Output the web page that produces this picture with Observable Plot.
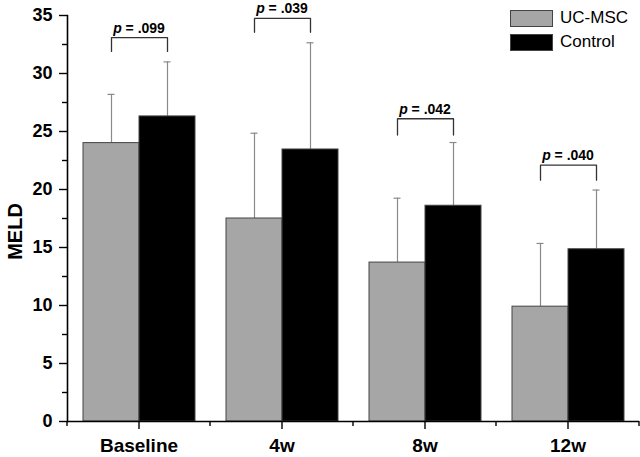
<!DOCTYPE html>
<html>
<head>
<meta charset="utf-8">
<script src="https://cdn.jsdelivr.net/npm/d3@7"></script>
<script src="https://cdn.jsdelivr.net/npm/@observablehq/plot@0.6"></script>
<style>
  body { margin: 0; background: #fff; }
  #wrap { position: relative; width: 640px; height: 457px; font-family: "Liberation Sans", Arial, sans-serif; }
  .legend { position: absolute; left: 510px; top: 6px; font-size: 17px; line-height: 24px; color: #000; }
  .legend div { display: flex; align-items: center; height: 24px; }
  .legend span.sw { display: inline-block; width: 41px; height: 15px; border: 1px solid #444; margin-right: 7px; }
</style>
</head>
<body>
<div id="wrap"></div>
<script>
const categories = ["Baseline", "4w", "8w", "12w"];
const groups = ["UC-MSC", "Control"];
const ucMean = [24.0, 17.5, 13.7, 9.9];
const ucSD = [4.2, 7.35, 5.55, 5.45];
const ctrlMean = [26.3, 23.45, 18.6, 14.85];
const ctrlSD = [4.7, 9.2, 5.45, 5.1];
const pValues = [".099", ".039", ".042", ".040"];
const bracketTop = [33.1, 34.75, 26.1, 22.1];
const bracketLeg = [31.9, 33.55, 24.7, 20.8];
const yTicks = [0, 5, 10, 15, 20, 25, 30, 35];
const yMinorTicks = [2.5, 7.5, 12.5, 17.5, 22.5, 27.5, 32.5];
const colors = ["#a6a6a6", "#000000"];

const data = [];
categories.forEach((c, i) => {
  data.push({cat: c, group: groups[0], mean: ucMean[i], sd: ucSD[i]});
  data.push({cat: c, group: groups[1], mean: ctrlMean[i], sd: ctrlSD[i]});
});
const brackets = categories.map((c, i) => ({cat: c, top: bracketTop[i], leg: bracketLeg[i], p: pValues[i]}));
const bracketPts = [];
brackets.forEach(b => {
  bracketPts.push({cat: b.cat, group: groups[0], v: b.leg});
  bracketPts.push({cat: b.cat, group: groups[0], v: b.top});
  bracketPts.push({cat: b.cat, group: groups[1], v: b.top});
  bracketPts.push({cat: b.cat, group: groups[1], v: b.leg});
});

const plot = Plot.plot({
  width: 640,
  height: 457,
  marginLeft: 67,
  marginRight: 1,
  marginTop: 15,
  marginBottom: 36,
  style: {fontFamily: "'Liberation Sans', Arial, sans-serif", fontSize: "17px", fontWeight: "bold", color: "#000", background: "#fff"},
  fx: {domain: categories, padding: 0, axis: null},
  x: {domain: groups, paddingInner: 0, paddingOuter: 0.2544, axis: null},
  y: {domain: [0, 35], axis: null},
  color: {domain: groups, range: colors},
  marks: [
    Plot.ruleX(data, {fx: "cat", x: "group", y1: "mean", y2: d => d.mean + d.sd, stroke: "#8a8a8a", strokeWidth: 1.2}),
    Plot.tickY(data, {fx: "cat", x: "group", y: d => d.mean + d.sd, stroke: "#8a8a8a", strokeWidth: 1.2, insetLeft: 24.5, insetRight: 24.5}),
    Plot.barY(data, {fx: "cat", x: "group", y: "mean", fill: "group", stroke: "#444", strokeWidth: 1}),
    Plot.line(bracketPts, {fx: "cat", x: "group", y: "v", z: "cat", stroke: "#333", strokeWidth: 1.3}),
    Plot.text(brackets, {fx: "cat", y: "top", text: d => "p = " + d.p, lineAnchor: "bottom", dy: -5, fontSize: 14, fontWeight: "bold", className: "pval"}),
    Plot.ruleY([0], {stroke: "#000", strokeWidth: 1.6}),
    Plot.frame({anchor: "left", facetAnchor: "left", stroke: "#000", strokeWidth: 1.6}),
    Plot.axisY({ticks: yTicks, tickSize: 8, tickPadding: 7, fontSize: 18, fontWeight: "bold", label: "MELD", labelAnchor: "center", labelArrow: "none", labelOffset: 60, strokeWidth: 1.4}),
    Plot.axisY({ticks: yMinorTicks, tickSize: 5, tickFormat: () => "", label: null, strokeWidth: 1.4}),
    Plot.axisFx({anchor: "bottom", tickSize: 8, tickPadding: 9, fontSize: 19, fontWeight: "bold", label: null, strokeWidth: 1.4})
  ]
});

document.getElementById("wrap").appendChild(plot);

// larger axis title, centred a little lower as in the original
d3.select(plot).selectAll("text").filter(function() { return d3.select(this).text() === "MELD"; })
  .attr("font-size", 20).style("font-size", "20px").attr("font-weight", "bold").attr("dx", -13);

// italic "p" in the p-value labels
d3.select(plot).selectAll("g.pval text").each(function() {
  const t = d3.select(this);
  const s = t.text();
  t.text(null);
  t.append("tspan").attr("font-style", "italic").text("p");
  t.append("tspan").text(s.slice(1));
});

// minor ticks at group boundaries on the x axis, from the fx scale
const fx = plot.scale("fx");
const y = plot.scale("y");
const bounds = categories.map(c => fx.apply(c)).concat([fx.apply(categories[categories.length - 1]) + fx.step]);
const y0 = y.apply(0);
d3.select(plot).append("g").attr("stroke", "#000").attr("stroke-width", 1.4)
  .selectAll("line").data(bounds).join("line")
  .attr("x1", d => d).attr("x2", d => d).attr("y1", y0).attr("y2", y0 + 5);

// legend
const legend = d3.select("#wrap").append("div").attr("class", "legend");
groups.forEach((g, i) => {
  const row = legend.append("div");
  row.append("span").attr("class", "sw").style("background", colors[i]);
  row.append("span").text(g);
});
</script>
</body>
</html>
